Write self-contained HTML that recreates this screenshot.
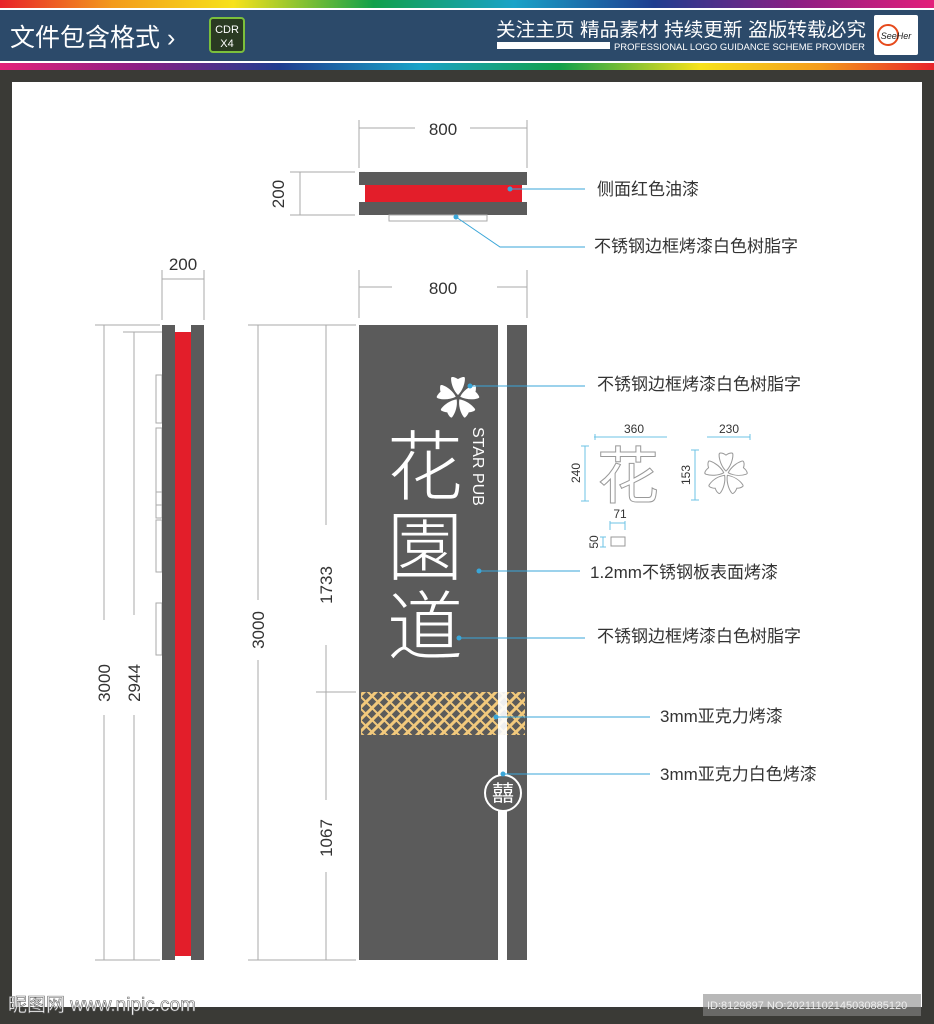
<!DOCTYPE html>
<html><head><meta charset="utf-8"><style>
html,body{margin:0;padding:0;width:934px;height:1024px;overflow:hidden;background:#3a3a36}
svg{display:block}
text{font-family:"Liberation Sans","Noto Sans CJK SC",sans-serif}
</style></head><body>
<svg width="934" height="1024" viewBox="0 0 934 1024" xmlns="http://www.w3.org/2000/svg">
<defs>
<linearGradient id="rb" x1="0" x2="1">
<stop offset="0" stop-color="#e8232a"/><stop offset="0.12" stop-color="#f39a1c"/><stop offset="0.25" stop-color="#f7e21b"/><stop offset="0.4" stop-color="#12a04a"/><stop offset="0.55" stop-color="#1aa3c8"/><stop offset="0.7" stop-color="#1e3d8f"/><stop offset="0.85" stop-color="#8a1f84"/><stop offset="1" stop-color="#e3207a"/>
</linearGradient>
<linearGradient id="rb2" x1="1" x2="0">
<stop offset="0" stop-color="#e8232a"/><stop offset="0.12" stop-color="#f39a1c"/><stop offset="0.25" stop-color="#f7e21b"/><stop offset="0.4" stop-color="#12a04a"/><stop offset="0.55" stop-color="#1aa3c8"/><stop offset="0.7" stop-color="#1e3d8f"/><stop offset="0.85" stop-color="#8a1f84"/><stop offset="1" stop-color="#e3207a"/>
</linearGradient>
<pattern id="wv" width="12" height="12" patternUnits="userSpaceOnUse">
<rect width="12" height="12" fill="#5b5b5b"/>
<path d="M0 12 L12 0 M-3 3 L3 -3 M9 15 L15 9" stroke="#f2c97c" stroke-width="3"/>
<path d="M0 0 L5 5 M7 7 L12 12" stroke="#f2c97c" stroke-width="2"/>
</pattern>
</defs>
<!-- header -->
<rect x="0" y="0" width="934" height="8" fill="url(#rb)"/>
<rect x="0" y="8" width="934" height="2" fill="#fff"/>
<rect x="0" y="10" width="934" height="51" fill="#2c4a6a"/>
<rect x="0" y="61" width="934" height="2" fill="#fff"/>
<rect x="0" y="63" width="934" height="7" fill="url(#rb2)"/>
<text x="10" y="46" font-size="25" fill="#fff">文件包含格式 ›</text>
<rect x="210" y="18" width="34" height="34" rx="3" fill="#2a3a22" stroke="#7bbf3c" stroke-width="2"/>
<text x="227" y="33" font-size="11" fill="#fff" text-anchor="middle">CDR</text>
<text x="227" y="47" font-size="11" fill="#fff" text-anchor="middle">X4</text>
<text x="496" y="36" font-size="19" fill="#fff" textLength="370" lengthAdjust="spacingAndGlyphs">关注主页 精品素材 持续更新 盗版转载必究</text>
<rect x="497" y="42" width="113" height="7" fill="#fff"/>
<text x="614" y="50" font-size="9.5" fill="#fff" textLength="251" lengthAdjust="spacingAndGlyphs">PROFESSIONAL LOGO GUIDANCE SCHEME PROVIDER</text>
<rect x="874" y="15" width="44" height="40" rx="2" fill="#fff"/>
<circle cx="888" cy="35" r="10" fill="none" stroke="#e64a1c" stroke-width="2"/>
<text x="896" y="39" font-size="9" fill="#222" text-anchor="middle" font-style="italic">SeeHer</text>
<!-- panel -->
<rect x="12" y="82" width="910" height="925" fill="#fff"/>

<g stroke="#aaa" stroke-width="1" fill="none">
<path d="M359 120V168 M527 120V168 M359 128H415 M470 128H527"/>
<path d="M290 172H355 M290 215H355 M300 172V215"/>
<path d="M359 270V318 M527 270V318 M359 287H392 M497 287H527"/>
<path d="M162 270V320 M204 270V320 M162 279H204"/>
<path d="M95 325H160 M104 325V620 M104 715V960 M95 960H160"/>
<path d="M123 332H170 M134 332V615 M134 715V960 M123 960H160"/>
<path d="M248 325H356 M258 325V600 M258 660V960 M248 960H356"/>
<path d="M326 325V525 M326 645V692 M316 692H356 M326 692V800 M326 872V960"/>
<path d="M156 375H162V423H156Z M156 428H162V492H156Z M156 492H162V505H156Z M156 505H162V518H156Z M156 520H162V572H156Z M156 603H162V655H156Z"/>
</g>
<g font-size="17" fill="#333" text-anchor="middle">
<text x="443" y="135">800</text>
<text x="443" y="294">800</text>
<text x="183" y="270">200</text>
<text transform="translate(284,194) rotate(-90)">200</text>
<text transform="translate(110,683) rotate(-90)">3000</text>
<text transform="translate(140,683) rotate(-90)">2944</text>
<text transform="translate(264,630) rotate(-90)">3000</text>
<text transform="translate(332,585) rotate(-90)">1733</text>
<text transform="translate(332,838) rotate(-90)">1067</text>
</g>

<rect x="359" y="172" width="168" height="13" fill="#5b5b5b"/>
<rect x="365" y="185" width="157" height="17" fill="#e31e2a"/>
<rect x="359" y="202" width="168" height="13" fill="#5b5b5b"/>
<rect x="389" y="215" width="98" height="6" fill="none" stroke="#aaa"/>

<rect x="162" y="325" width="13" height="635" fill="#5b5b5b"/>
<rect x="175" y="332" width="16" height="624" fill="#e31e2a"/>
<rect x="191" y="325" width="13" height="635" fill="#5b5b5b"/>

<rect x="359" y="325" width="139" height="635" fill="#5b5b5b"/>
<rect x="507" y="325" width="20" height="635" fill="#5b5b5b"/>
<rect x="361" y="692" width="164" height="43" fill="url(#wv)"/>
<rect x="498" y="692" width="9" height="43" fill="#fff" opacity="0.9"/>
<text x="458" y="414" font-size="44" fill="#fff" text-anchor="middle">✿</text>
<text x="425" y="494" font-size="76" fill="#fff" text-anchor="middle" font-weight="300">花</text>
<text x="425" y="574" font-size="76" fill="#fff" text-anchor="middle" font-weight="300">園</text>
<text x="425" y="654" font-size="76" fill="#fff" text-anchor="middle" font-weight="300">道</text>
<text transform="translate(473,427) rotate(90)" font-size="16" fill="#fff">STAR PUB</text>
<circle cx="503" cy="793" r="18" fill="#5b5b5b" stroke="#fff" stroke-width="2"/>
<text x="503" y="801" font-size="22" fill="#fff" text-anchor="middle">囍</text>

<g stroke="#6cc3e6" stroke-width="1" fill="none">
<path d="M594 437H667 M707 437H750 M595 434V440 M750 434V440"/>
<path d="M585 446V501 M581 446H589 M581 501H589"/>
<path d="M695 450V500 M691 450H699 M691 500H699"/>
<path d="M610 521V530 M625 521V530 M610 523H625"/>
<path d="M603 537V547 M600 537H606 M600 547H606"/>
</g>
<text x="597" y="498" font-size="62" fill="#fff" stroke="#999" stroke-width="1">花</text>
<text x="726" y="490" font-size="44" fill="#fff" stroke="#999" stroke-width="1" text-anchor="middle">✿</text>
<rect x="611" y="537" width="14" height="9" fill="none" stroke="#999"/>
<g font-size="12" fill="#333" text-anchor="middle">
<text x="634" y="433">360</text>
<text x="729" y="433">230</text>
<text x="620" y="518">71</text>
<text transform="translate(580,473) rotate(-90)">240</text>
<text transform="translate(690,475) rotate(-90)">153</text>
<text transform="translate(598,542) rotate(-90)">50</text>
</g>

<g stroke="#3aa6d8" stroke-width="1" fill="none">
<path d="M510 189H585"/>
<path d="M456 217L500 247H585"/>
<path d="M470 386H585"/>
<path d="M479 571H580"/>
<path d="M459 638H585"/>
<path d="M496 717H650"/>
<path d="M503 774H650"/>
</g>
<g fill="#3aa6d8">
<circle cx="510" cy="189" r="2.5"/><circle cx="456" cy="217" r="2.5"/><circle cx="470" cy="386" r="2.5"/><circle cx="479" cy="571" r="2.5"/><circle cx="459" cy="638" r="2.5"/><circle cx="496" cy="717" r="2.5"/><circle cx="503" cy="774" r="2.5"/>
</g>
<g font-size="17" fill="#333">
<text x="597" y="195">侧面红色油漆</text>
<text x="594" y="252">不锈钢边框烤漆白色树脂字</text>
<text x="597" y="390">不锈钢边框烤漆白色树脂字</text>
<text x="590" y="578">1.2mm不锈钢板表面烤漆</text>
<text x="597" y="642">不锈钢边框烤漆白色树脂字</text>
<text x="660" y="722">3mm亚克力烤漆</text>
<text x="660" y="780">3mm亚克力白色烤漆</text>
</g>

<text x="8" y="1011" font-size="19" fill="#fff" stroke="#666" stroke-width="0.6">昵图网 www.nipic.com</text>
<rect x="703" y="994" width="218" height="22" fill="#888" opacity="0.6"/>
<text x="707" y="1009" font-size="11" fill="#eee">ID:8129897 NO:20211102145030885120</text>
</svg>
</body></html>
